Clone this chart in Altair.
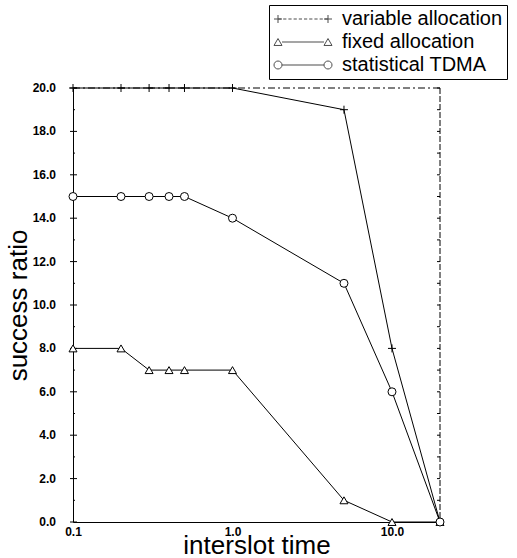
import math
import altair as alt
import pandas as pd

# ---------------- data ----------------
x_vals = [0.1, 0.2, 0.3, 0.4, 0.5, 1.0, 5.0, 10.0, 20.0]
variable_alloc = [20, 20, 20, 20, 20, 20, 19, 8, 0]
fixed_alloc = [8, 8, 7, 7, 7, 7, 1, 0, 0]
stat_tdma = [15, 15, 15, 15, 15, 14, 11, 6, 0]
series_names = ["variable allocation", "fixed allocation", "statistical TDMA"]

y_label_ticks = [0, 2, 4, 6, 8, 10, 12, 14, 16, 18, 20]
y_minor_ticks = [1, 3, 5, 7, 9, 11, 13, 15, 17, 19]
y_all_ticks = list(range(0, 21))
x_major = [0.1, 1.0, 10.0]

rows = []
for name, vals in zip(series_names, [variable_alloc, fixed_alloc, stat_tdma]):
    for i, (xv, yv) in enumerate(zip(x_vals, vals)):
        rows.append({"series": name, "t": xv, "ratio": yv, "order": i})
df = pd.DataFrame(rows)

W, H = 367, 434
FONT = "Liberation Sans"

x_scale = alt.Scale(type="log", domain=[0.1, 20], nice=False)
y_scale = alt.Scale(domain=[0, 20], nice=False)

x_axis = alt.Axis(
    values=x_major,
    format=".1f",
    title="interslot time",
    titleFontSize=26,
    titleFontWeight="normal",
    titleColor="black",
    titleBaseline="alphabetic",
    titleY=31,
    labelFontSize=12,
    labelFontWeight="bold",
    labelColor="black",
    labelPadding=0,
    labelFlush=False,
    ticks=True,
    tickSize=4,
    tickOpacity=0,
    grid=False,
    domainColor="black",
    domainWidth=1,
)
y_axis = alt.Axis(
    values=y_label_ticks,
    title="success ratio",
    titleFontSize=26,
    titleFontWeight="normal",
    titleColor="black",
    titleAngle=270,
    titleBaseline="alphabetic",
    titleX=-47,
    titleY=H / 2,
    labels=False,
    ticks=False,
    grid=False,
    domainColor="black",
    domainWidth=1,
)

# ---------------- marker / legend glyph paths ----------------
PLUS = "M-1,0H1M0,-1V1"


def f(v):
    return f"{v:.3f}"


def plus_at(cx, r):
    return f"M{f(cx - r)},0H{f(cx + r)}M{f(cx)},{f(-r)}V{f(r)}"


def tri_at(cx, r):
    h = r * math.sqrt(3) / 2
    return f"M{f(cx)},{f(-h)}L{f(cx - r)},{f(h)}L{f(cx + r)},{f(h)}Z"


def circ_at(cx, r, n=16):
    pts = []
    for k in range(n):
        a = 2 * math.pi * k / n
        pts.append((cx + r * math.cos(a), r * math.sin(a)))
    s = "M" + f(pts[0][0]) + "," + f(pts[0][1])
    for px, py in pts[1:]:
        s += "L" + f(px) + "," + f(py)
    return s + "Z"


C = 6.25   # marker centre (units of 4 px)
R = 1.0    # marker radius


def dashed(x0, x1, d=0.8, g=0.5):
    s = ""
    x = x0
    while x < x1:
        e = min(x + d, x1)
        s += f"M{f(x)},0H{f(e)}"
        x = e + g
    return s


legend_paths = [
    plus_at(-C, R) + dashed(-C, C) + plus_at(C, R),
    tri_at(-C, R) + f"M{f(-C + R)},0H{f(C - R)}" + tri_at(C, R),
    circ_at(-C, R) + f"M{f(-C + R)},0H{f(C - R)}" + circ_at(C, R),
]

# ---------------- layers ----------------
base = alt.Chart(df)
X = alt.X("t:Q", scale=x_scale, axis=x_axis)
Y = alt.Y("ratio:Q", scale=y_scale, axis=y_axis)

lines = base.mark_line(color="black", strokeWidth=1).encode(
    x=X, y=Y, detail="series:N", order="order:Q"
)

points = base.mark_point(
    filled=True, fill="white", stroke="black", strokeWidth=1, size=64, opacity=1
).encode(
    x=X,
    y=Y,
    shape=alt.Shape(
        "series:N",
        scale=alt.Scale(domain=series_names, range=[PLUS, "triangle-up", "circle"]),
        legend=None,
    ),
)

legend_layer = base.transform_filter("false").mark_point(
    filled=False, color="black", strokeWidth=1, size=64
).encode(
    x=X,
    y=Y,
    shape=alt.Shape(
        "series:N",
        scale=alt.Scale(domain=series_names, range=legend_paths),
        legend=alt.Legend(
            title=None,
            orient="none",
            legendX=196,
            legendY=-83,
            labelFont=FONT,
            labelFontSize=20,
            labelColor="black",
            labelLimit=400,
            symbolSize=64,
            symbolStrokeColor="black",
            symbolStrokeWidth=1,
            symbolOffset=20,
            labelOffset=29,
            padding=4,
            rowPadding=3,
            strokeColor="black",
        ),
    ),
)

tick_major_df = pd.DataFrame({"ratio": y_label_ticks})
tick_minor_df = pd.DataFrame({"ratio": y_minor_ticks})
tick_all_df = pd.DataFrame({"ratio": y_all_ticks})

y_labels = alt.Chart(tick_major_df).mark_text(
    align="right", baseline="middle", font=FONT, fontSize=12,
    fontWeight="bold", color="black"
).encode(
    y=Y, x=alt.value(-17), text=alt.Text("ratio:Q", format=".1f")
)

left_major = alt.Chart(tick_major_df).mark_rule(color="black", strokeWidth=1).encode(
    y=Y, x=alt.value(-3), x2=alt.value(4)
)
left_minor = alt.Chart(tick_minor_df).mark_rule(color="black", strokeWidth=1).encode(
    y=Y, x=alt.value(0), x2=alt.value(2)
)
right_ticks = alt.Chart(tick_all_df).mark_rule(color="black", strokeWidth=1).encode(
    y=Y, x=alt.value(W - 3), x2=alt.value(W)
)

one = pd.DataFrame({"a": [0]})
top_border = alt.Chart(one).mark_rule(
    color="black", strokeWidth=1, strokeDash=[7, 3, 2, 3]
).encode(x=alt.value(0), x2=alt.value(W), y=alt.value(0))
right_border = alt.Chart(one).mark_rule(
    color="black", strokeWidth=1, strokeDash=[6, 2]
).encode(x=alt.value(W), y=alt.value(0), y2=alt.value(H))

chart = (
    alt.layer(
        lines,
        top_border,
        right_border,
        left_major,
        left_minor,
        right_ticks,
        y_labels,
        points,
        legend_layer,
    )
    .resolve_scale(shape="independent")
    .properties(
        width=W,
        height=H,
        padding={"left": 73, "top": 88, "right": 77, "bottom": 36},
        autosize=alt.AutoSizeParams(type="none"),
    )
    .configure(font=FONT, background="white")
    .configure_view(stroke=None)
)

chart.save("out.html", embed_options={"renderer": "svg", "actions": False})
